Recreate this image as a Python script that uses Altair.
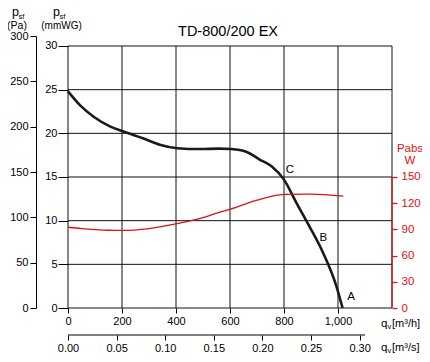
import altair as alt
import pandas as pd

# ---- data ----
q_curve = [0, 45, 95, 155, 205, 280, 340, 405, 490, 560, 605, 660, 710, 755, 800, 845, 895, 945, 995, 1017]
p_curve = [24.8, 23.2, 21.9, 20.8, 20.2, 19.4, 18.7, 18.3, 18.2, 18.25, 18.2, 17.9, 17.0, 16.2, 14.7, 12.1, 9.3, 6.3, 2.4, 0.0]

q_power = [0, 50, 100, 150, 200, 300, 400, 500, 560, 600, 700, 800, 900, 1020]
w_power = [92.5, 91, 89.8, 89, 88.8, 91, 96.5, 103.5, 109.6, 113, 123.5, 130, 130.5, 128]

q_ticks = [0, 200, 400, 600, 800, 1000]
q_grid = [0, 200, 400, 600, 800, 1000, 1200]
p_grid = [0, 5, 10, 15, 20, 25, 30]
pa_ticks = [0, 50, 100, 150, 200, 250, 300]
w_ticks = [0, 30, 60, 90, 120, 150]
qs_ticks = [0.0, 0.05, 0.10, 0.15, 0.20, 0.25, 0.30]

pt_labels = ["A", "B", "C"]
pt_q = [1048, 946, 822]
pt_p = [1.25, 8.0, 15.8]

title_text = "TD-800/200 EX"

# ---- layout ----
W, H = 324, 272
FONT = "Liberation Sans"
RED = "#e01010"
LINE = "#111111"

xq = alt.Scale(domain=[0, 1200], nice=False, zero=False)
yp = alt.Scale(domain=[0, 31.145], nice=False, zero=False)

x_axis = alt.Axis(orient="bottom", values=q_ticks, domain=False, grid=False, tickSize=5,
                  tickColor="black", labelPadding=2, labelFontSize=11, labelFont=FONT,
                  labelColor="black", title=None, labelFlush=False)
y_axis = alt.Axis(orient="left", values=p_grid, domain=False, grid=False, tickSize=10,
                  tickColor="black", labelPadding=1, labelFontSize=11, labelFont=FONT,
                  labelColor="black", title=None)

df_curve = pd.DataFrame({"q": q_curve, "p": p_curve})
df_power = pd.DataFrame({"q": q_power, "w": w_power})
df_pg = pd.DataFrame({"p": p_grid})
df_qg = pd.DataFrame({"q": q_grid})
df_pts = pd.DataFrame({"lab": pt_labels, "q": pt_q, "p": pt_p})

grid_h = alt.Chart(df_pg).mark_rule(color=LINE, strokeWidth=1).encode(
    y=alt.Y("p:Q", scale=yp, axis=y_axis),
    x=alt.X(datum=0, scale=xq, axis=x_axis),
    x2=alt.X2(datum=1200),
)
grid_v = alt.Chart(df_qg).mark_rule(color=LINE, strokeWidth=1).encode(
    x=alt.X("q:Q", scale=xq, axis=x_axis),
    y=alt.Y(datum=0, scale=yp, axis=y_axis),
    y2=alt.Y2(datum=30),
)
red_axis_line = alt.Chart(df_pg.head(1)).mark_rule(color=RED, strokeWidth=1.2).encode(
    x=alt.X(datum=1200, scale=xq, axis=x_axis),
    y=alt.Y(datum=0, scale=yp, axis=y_axis),
    y2=alt.Y2(datum=15),
)
qs_axis_line = alt.Chart(df_pg.head(1)).mark_rule(color="black", strokeWidth=1).encode(
    x=alt.X(datum=0, scale=xq, axis=x_axis),
    x2=alt.X2(datum=1100),
    y=alt.value(H + 27),
)
curve = alt.Chart(df_curve).mark_line(color="#1a1a1a", strokeWidth=2.6, interpolate="monotone").encode(
    x=alt.X("q:Q", scale=xq, axis=x_axis),
    y=alt.Y("p:Q", scale=yp, axis=y_axis),
)
pts = alt.Chart(df_pts).mark_text(font=FONT, fontSize=11.5, color="black").encode(
    x=alt.X("q:Q", scale=xq, axis=x_axis),
    y=alt.Y("p:Q", scale=yp, axis=y_axis),
    text="lab:N",
)
main = alt.layer(grid_h, grid_v, red_axis_line, qs_axis_line, curve, pts)

power = alt.Chart(df_power).mark_line(color=RED, strokeWidth=1.3, interpolate="monotone").encode(
    x=alt.X("q:Q", scale=xq, axis=None),
    y=alt.Y("w:Q", scale=alt.Scale(domain=[0, 311.45], nice=False, zero=False),
            axis=alt.Axis(orient="right", values=w_ticks, domain=False, grid=False, tickSize=5,
                          tickColor=RED, tickWidth=1.2, labelColor=RED, labelPadding=4,
                          labelFontSize=11.5, labelFont=FONT, title=None)),
)

pa_layer = alt.Chart(pd.DataFrame({"pa": pa_ticks})).mark_point(opacity=0).encode(
    x=alt.X(datum=0, scale=xq, axis=None),
    y=alt.Y("pa:Q", scale=alt.Scale(domain=[0, 300], nice=False, zero=False),
            axis=alt.Axis(orient="left", offset=32, values=pa_ticks, domain=True, domainColor="black",
                          grid=False, tickSize=6, tickColor="black", labelPadding=2,
                          labelFontSize=11, labelFont=FONT, labelColor="black", title=None)),
)

qs_layer = alt.Chart(pd.DataFrame({"s": qs_ticks})).mark_point(opacity=0).encode(
    x=alt.X("s:Q", scale=alt.Scale(domain=[0, 1200 / 3600], nice=False, zero=False),
            axis=alt.Axis(orient="bottom", offset=27, values=qs_ticks, format=".2f", domain=False,
                          grid=False, tickSize=5, tickColor="black", labelPadding=2,
                          labelFontSize=11, labelFont=FONT, labelColor="black", title=None,
                          labelFlush=False)),
    y=alt.value(0),
)


def txt(s, x, y, size, color="black", align="center"):
    return alt.Chart(pd.DataFrame({"t": [s]})).mark_text(
        font=FONT, fontSize=size, color=color, align=align, baseline="alphabetic"
    ).encode(x=alt.value(x), y=alt.value(y), text="t:N")


texts = [
    txt(title_text, 160, -0.5, 14.5),
    txt("p", -56, -20, 12.5, align="left"),
    txt("sf", -49.5, -17.5, 7.5, align="left"),
    txt("(Pa)", -51, -7.5, 10.5),
    txt("p", -15, -20, 12.5, align="left"),
    txt("sf", -8.5, -17.5, 7.5, align="left"),
    txt("(mmWG)", -6.5, -7.5, 10),
    txt("Pabs", 342, 116.3, 11.5, color=RED),
    txt("W", 342, 127.5, 11.5, color=RED),
    txt("q", 313, 290.5, 11.5, align="left"),
    txt("v", 319.5, 292.5, 7.5, align="left"),
    txt("[m³/h]", 324, 290.5, 11, align="left"),
    txt("q", 313, 314.5, 11.5, align="left"),
    txt("v", 319.5, 316.5, 7.5, align="left"),
    txt("[m³/s]", 324, 314.5, 11, align="left"),
]

chart = alt.layer(main, power, pa_layer, qs_layer, *texts).resolve_scale(
    x="independent", y="independent"
).properties(
    width=W, height=H,
    autosize=alt.AutoSizeParams(type="none"),
    padding={"left": 60, "top": 28, "right": 30, "bottom": 46},
).configure_view(stroke=None)

chart.save("out.html", embed_options={"renderer": "svg", "actions": False})
